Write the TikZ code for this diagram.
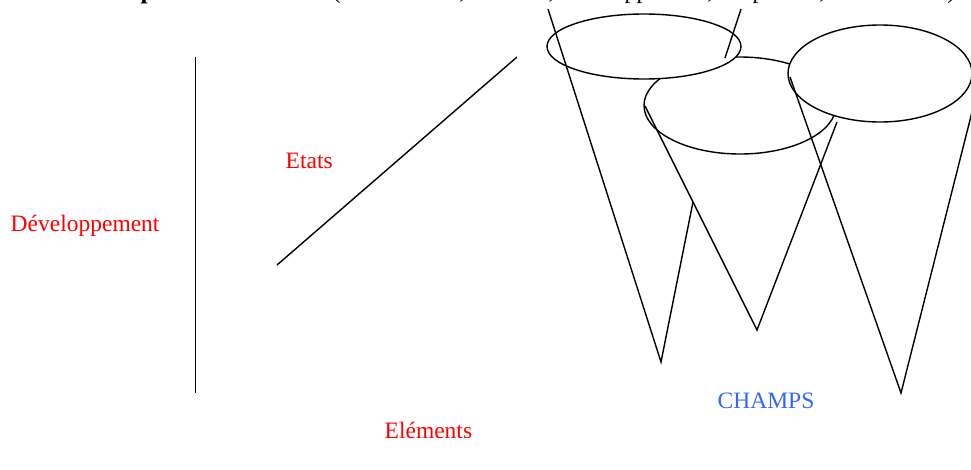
\documentclass[tikz,border=0pt]{standalone}
\usepackage{fontspec}
\setmainfont{Liberation Serif}
\usepackage{tikz}
\usetikzlibrary{positioning}
\definecolor{champsblue}{RGB}{51,102,255}

\begin{document}
\begin{tikzpicture}[x=1pt,y=-1pt,line width=1.4pt,
	etiquette/.style={anchor=base west,inner sep=0pt,text=red,font=\fontsize{23.5}{28}\selectfont},
	champ/.style={etiquette,text=champsblue},
	titre/.style={anchor=base west,inner sep=0pt,font=\fontsize{24}{28}\selectfont}]
		\useasboundingbox (0,0) rectangle (971,469);
		\clip (0,0) rectangle (971,469);
		
		%Title (cut at the top)
		\node[titre,font=\fontsize{25.5}{28}\selectfont\bfseries] (titre) at (43,-1.5) {La conceptualisation :};
		\node[titre] (soustitre) at (332,-1.5) {(construction, création, développement, adaptation, assimilation)};
		
		%Axes
		\draw (195.5,57) -- (195.5,393);
		\draw (277,265) -- (517,57);
		
		%Labels
		\node[etiquette] (dev) at (10,231.5) {Développement};
		\node[etiquette] (etats) at (285,168.3) {Etats};
		\node[etiquette] (elem) at (384,438.3) {Eléments};
		\node[champ] (champs) at (717,408.3) {CHAMPS};
		
		%Cones
		\draw (740,105.5) ellipse (96 and 48.5);
		\draw[fill=white] (644,46.5) ellipse (97 and 32.5);
		\draw[fill=white] (880,73.5) ellipse (92 and 48.5);
		
		\draw (548,9) -- (661,362) -- (693,202);
		\draw (741,9) -- (725,58);
		\draw (645,106) -- (757,330) -- (837,122);
		\draw (790,77) -- (901,393) -- (972,112);
	\end{tikzpicture}
\end{document}
